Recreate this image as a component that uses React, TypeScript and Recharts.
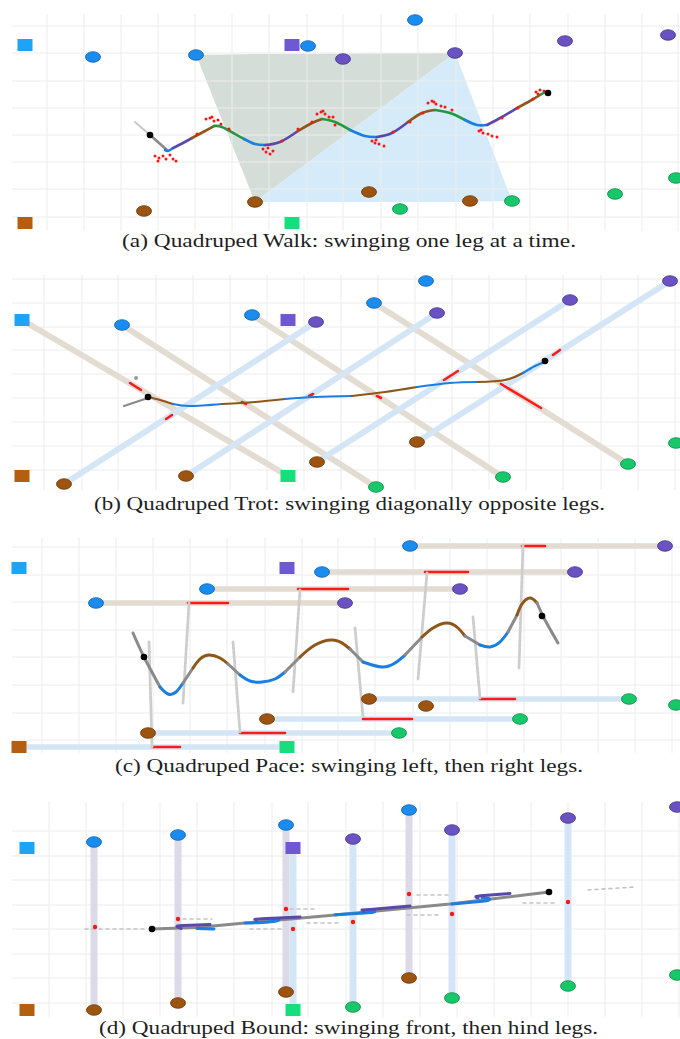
import React from 'react';
import { ComposedChart, XAxis, YAxis, Line, Scatter, Area, ReferenceLine } from 'recharts';

type XY = number[];

// ---------- colours ----------
const GRID = '#ececec';
const FOOT = { FL: '#1a8cf0', FR: '#6a52c2', HL: '#9c5410', HR: '#16c86a' };
const FOOT_EDGE = { FL: '#0f5fb0', FR: '#45358a', HL: '#6b3808', HR: '#0e8a48' };
const SQUARE = ['#1ea4f6', '#6e58d4', '#b35e10', '#17de7c'];
const PATH = { FL: '#1b7ee0', FR: '#5a48ac', HL: '#8e5618', HR: '#23993f', g: '#8a8a8a', lg: '#c8c8c8' };

// ---------- (a) walk ----------
const walkGridX = [47, 84, 121, 158, 195, 232, 269, 307, 343, 381, 418, 456, 493, 530, 568, 605, 642, 678];
const walkGridY = [26, 53, 81, 108, 135, 162, 189, 217];
const walkSquares: XY[] = [[25, 45], [292, 45], [25, 223], [292, 223]];
const walkFL: XY[] = [[93, 57], [196, 55], [308, 46], [415, 20]];
const walkFR: XY[] = [[343, 59], [455, 53], [565, 41], [668, 35]];
const walkHL: XY[] = [[144, 211], [255, 202], [369, 192], [470, 201]];
const walkHR: XY[] = [[400, 209], [512, 201], [615, 194], [676, 178]];
const walkSupportA = [{ x: 196, r: [55, 55] }, { x: 255, r: [54, 202] }, { x: 455, r: [53, 53] }];
const walkSupportB = [{ x: 255, r: [202, 202] }, { x: 455, r: [53, 202] }, { x: 512, r: [201, 201] }];
const walkPath: [string, XY[]][] = [
  ['lg', [[135, 122], [150, 135]]],
  ['g', [[150, 135], [167, 150]]],
  ['FL', [[165, 150], [168, 151], [173, 148]]],
  ['FR', [[173, 148], [183, 143], [192, 138]]],
  ['HL', [[192, 138], [205, 131], [214, 126]]],
  ['HR', [[214, 126], [222, 127], [235, 134], [244, 139]]],
  ['FL', [[244, 139], [255, 144], [265, 145]]],
  ['FR', [[265, 145], [280, 142], [298, 131]]],
  ['HL', [[298, 131], [312, 123], [322, 119]]],
  ['HR', [[322, 119], [335, 122], [350, 130]]],
  ['FL', [[350, 130], [365, 136], [377, 137]]],
  ['FR', [[377, 137], [392, 133], [408, 122]]],
  ['HL', [[408, 122], [422, 113], [435, 110]]],
  ['HR', [[435, 110], [450, 113], [465, 120]]],
  ['FL', [[465, 120], [477, 125], [487, 125]]],
  ['FR', [[487, 125], [502, 117], [517, 108]]],
  ['HL', [[517, 108], [530, 101], [540, 95]]],
  ['HR', [[540, 95], [545, 92]]],
];
const walkBlack: XY[] = [[150, 135], [548, 93]];
const walkRed: XY[] = [
  [155, 156], [159, 158], [163, 156], [170, 155], [173, 159], [176, 161], [166, 159], [158, 161],
  [206, 119], [210, 118], [214, 121], [218, 120], [221, 124], [229, 129], [212, 117],
  [263, 149], [266, 152], [270, 154], [273, 151], [268, 148], [282, 141],
  [317, 114], [321, 112], [325, 114], [329, 117], [333, 117], [335, 125], [323, 111],
  [372, 141], [376, 140], [379, 144], [384, 146], [375, 143],
  [428, 103], [432, 101], [436, 104], [441, 106], [445, 107], [452, 110], [434, 102],
  [479, 131], [483, 133], [488, 134], [492, 136], [497, 137], [481, 130],
  [536, 92], [540, 90], [544, 91], [538, 94], [533, 99],
  [298, 129], [312, 122], [393, 132], [410, 122], [423, 113], [502, 118], [518, 108], [197, 134],
];

// ---------- (b) trot ----------
const trotGridX = [44, 82, 118, 156, 193, 230, 267, 304, 341, 378, 415, 452, 489, 526, 563, 601, 638, 675];
const trotGridY = [279, 303, 327, 350, 374, 398, 422, 446, 470];
const trotSquares: XY[] = [[22, 320], [288, 320], [22, 476], [288, 476]];
const trotFL: XY[] = [[122, 325], [252, 315], [374, 303], [426, 281]];
const trotFR: XY[] = [[316, 322], [437, 313], [570, 300], [670, 281]];
const trotHL: XY[] = [[64, 484], [186, 476], [317, 462], [417, 442]];
const trotHR: XY[] = [[376, 487], [503, 477], [628, 464], [676, 443]];
const trotFrontSwing: XY[][] = [[[22, 320], [288, 476]], [[122, 325], [376, 487]], [[252, 315], [503, 477]], [[374, 303], [628, 464]]];
const trotHindSwing: XY[][] = [[[64, 484], [316, 322]], [[186, 476], [437, 313]], [[317, 462], [570, 300]], [[417, 442], [670, 281]]];
const trotContacts: XY[][] = [
  [[130, 383], [141, 390]], [[166, 419], [172, 415]], [[242, 402], [246, 404]], [[309, 396], [313, 394]],
  [[377, 396], [381, 398]], [[444, 380], [458, 371]], [[501, 384], [541, 408]], [[553, 355], [560, 350]],
];
const trotPath: [string, XY[]][] = [
  ['g', [[124, 406], [148, 398]]],
  ['HL', [[148, 397], [160, 400], [173, 404]]],
  ['FL', [[173, 404], [190, 406], [222, 404]]],
  ['HL', [[222, 404], [255, 402], [285, 399]]],
  ['FL', [[285, 399], [315, 397], [352, 396]]],
  ['HL', [[352, 396], [385, 392], [417, 387]]],
  ['FL', [[417, 387], [450, 383], [478, 382]]],
  ['HL', [[478, 382], [505, 380], [523, 373]]],
  ['FL', [[523, 373], [535, 366], [545, 362]]],
];
const trotBlack: XY[] = [[148, 397], [545, 361]];
const trotGrayDot: XY[] = [[136, 378]];

// ---------- (c) pace ----------
const paceGridX = [42, 79, 116, 153, 190, 227, 265, 302, 338, 375, 413, 450, 487, 524, 561, 598, 635, 672];
const paceGridY = [547, 575, 602, 630, 657, 685, 713, 740];
const paceSquares: XY[] = [[19, 568], [287, 568], [19, 747], [287, 747]];
const paceFL: XY[] = [[96, 603], [207, 589], [322, 572], [410, 546]];
const paceFR: XY[] = [[345, 603], [460, 589], [575, 572], [665, 546]];
const paceHL: XY[] = [[148, 733], [267, 719], [369, 699], [426, 706]];
const paceHR: XY[] = [[399, 733], [520, 719], [629, 699], [676, 705]];
const paceFrontSwing: XY[][] = [[[96, 603], [345, 603]], [[207, 589], [460, 589]], [[322, 572], [575, 572]], [[410, 546], [665, 546]]];
const paceHindSwing: XY[][] = [[[19, 747], [287, 747]], [[148, 733], [399, 733]], [[267, 719], [520, 719]], [[369, 699], [629, 699]]];
const paceContacts: XY[][] = [
  [[188, 603], [228, 603]], [[298, 589], [348, 589]], [[425, 572], [468, 572]], [[522, 546], [545, 546]],
  [[152, 747], [180, 747]], [[240, 733], [285, 733]], [[363, 719], [412, 719]], [[480, 699], [515, 699]],
];
const paceLegs: XY[][] = [
  [[149, 642], [152, 747]], [[189, 603], [183, 703]], [[233, 642], [240, 732]], [[300, 590], [293, 692]],
  [[355, 628], [363, 717]], [[427, 573], [418, 679]], [[473, 617], [480, 698]], [[523, 545], [519, 668]],
];
const pacePath: [string, XY[]][] = [
  ['g', [[133, 633], [144, 657], [160, 687]]],
  ['FL', [[160, 687], [168, 694], [176, 692], [183, 683]]],
  ['g', [[183, 683], [193, 668]]],
  ['HL', [[193, 668], [200, 659], [209, 655], [220, 658], [228, 664]]],
  ['g', [[228, 664], [240, 675]]],
  ['FL', [[240, 675], [250, 681], [262, 682], [275, 679], [285, 672]]],
  ['g', [[285, 672], [300, 657]]],
  ['HL', [[300, 657], [315, 645], [333, 640], [345, 645], [350, 649]]],
  ['g', [[350, 649], [363, 662]]],
  ['FL', [[363, 662], [382, 667], [395, 663], [405, 655]]],
  ['g', [[405, 655], [422, 637]]],
  ['HL', [[422, 637], [433, 628], [447, 623], [458, 628], [465, 636]]],
  ['g', [[465, 636], [480, 645]]],
  ['FL', [[480, 645], [490, 647], [500, 642], [508, 632]]],
  ['g', [[508, 632], [517, 615]]],
  ['HL', [[517, 615], [522, 604], [530, 598], [537, 603]]],
  ['g', [[537, 603], [545, 620], [558, 643]]],
];
const paceBlack: XY[] = [[144, 657], [542, 616]];

// ---------- (d) bound ----------
const boundGridX = [49, 86, 123, 160, 197, 234, 272, 308, 346, 383, 420, 457, 494, 531, 568, 605, 642, 679];
const boundGridY = [831, 856, 880, 905, 929, 954, 978, 1003];
const boundSquares: XY[] = [[27, 848], [293, 848], [27, 1010], [293, 1010]];
const boundFL: XY[] = [[94, 842], [178, 835], [286, 825], [409, 810]];
const boundFR: XY[] = [[353, 839], [452, 830], [568, 818], [677, 807]];
const boundHL: XY[] = [[94, 1010], [178, 1003], [286, 992], [409, 978]];
const boundHR: XY[] = [[353, 1007], [452, 998], [568, 986], [677, 975]];
const boundFrontSwing: XY[][] = [[[94, 842], [94, 1010]], [[178, 835], [178, 1003]], [[286, 825], [286, 992]], [[409, 810], [409, 978]]];
const boundHindSwing: XY[][] = [[[293, 848], [293, 1010]], [[353, 839], [353, 1007]], [[452, 830], [452, 998]], [[568, 818], [568, 986]]];
const boundRed: XY[] = [[95, 927], [178, 919], [286, 909], [293, 929], [353, 922], [409, 894], [452, 914], [568, 902]];
const boundDotted: XY[][] = [
  [[85, 929], [148, 929]], [[183, 919], [212, 919]], [[250, 929], [283, 929]], [[290, 909], [318, 909]],
  [[307, 923], [340, 923]], [[407, 915], [440, 915]], [[417, 895], [452, 895]], [[523, 903], [557, 903]],
  [[588, 890], [635, 887]],
];
const boundPath: [string, XY[]][] = [
  ['g', [[152, 929], [197, 927.5], [245, 923], [335, 915], [450, 904], [549, 892]]],
  ['FR', [[181, 928.5], [177, 926.5], [183, 925.5], [210, 924.5]]],
  ['FL', [[197, 928.5], [214, 929]]],
  ['FL', [[245, 923], [262, 922.5], [276, 921], [278, 919.5], [272, 919]]],
  ['FR', [[257, 920.5], [255, 919.5], [262, 918.8], [300, 917]]],
  ['FL', [[335, 914.8], [360, 913.2], [373, 912.3], [374, 911], [368, 910.3]]],
  ['FR', [[364, 911.5], [362, 910], [370, 909.5], [410, 906]]],
  ['FL', [[452, 904], [480, 901.5], [488, 900.5], [489, 898.5], [482, 897.5]]],
  ['FR', [[478, 898], [476, 896.5], [484, 895.5], [510, 893.5]]],
];
const boundBlack: XY[] = [[152, 929], [549, 892]];

// ---------- captions ----------
const captions = [
  '(a) Quadruped Walk: swinging one leg at a time.',
  '(b) Quadruped Trot: swinging diagonally opposite legs.',
  '(c) Quadruped Pace: swinging left, then right legs.',
  '(d) Quadruped Bound: swinging front, then hind legs.',
];
const captionBox = [[122, 247, 454], [94, 510, 511], [115, 772, 468], [99, 1034, 499]];

// ---------- helpers ----------
const toPts = (a: XY[]) => a.map(([x, y]) => ({ x, y }));

const ellipseShape = (fill: string, stroke: string) => (p: any) =>
  <ellipse cx={p.cx} cy={p.cy} rx={7.5} ry={5.3} fill={fill} stroke={stroke} strokeWidth={0.8} />;
const squareShape = (fill: string) => (p: any) =>
  <rect x={p.cx - 7.5} y={p.cy - 6} width={15} height={12} fill={fill} />;
const dotShape = (fill: string, r: number) => (p: any) => <circle cx={p.cx} cy={p.cy} r={r} fill={fill} />;

type PanelCfg = {
  y0: number; y1: number; gTop: number; gBot: number; gridX: number[]; gridY: number[];
  areas?: { data: any[]; fill: string }[];
  bars: { segs: XY[][]; color: string; width: number; dash?: string }[];
  path: [string, XY[]][]; pathWidth: number;
  squares: XY[]; feet: [keyof typeof FOOT, XY[]][];
  black: XY[]; red?: XY[]; redR?: number; grayDots?: XY[];
};

function Panel({ c }: { c: PanelCfg }) {
  const items: React.ReactNode[] = [];
  c.gridX.forEach((x, i) => items.push(
    <ReferenceLine key={'gx' + i} segment={[{ x, y: c.gTop }, { x, y: c.gBot }]} stroke={GRID} strokeWidth={1} />));
  c.gridY.forEach((y, i) => items.push(
    <ReferenceLine key={'gy' + i} segment={[{ x: 12, y }, { x: 680, y }]} stroke={GRID} strokeWidth={1} />));
  (c.areas || []).forEach((a, i) => items.push(
    <Area key={'ar' + i} data={a.data} dataKey="r" type="linear" stroke="none" fill={a.fill} fillOpacity={1} isAnimationActive={false} dot={false} activeDot={false} />));
  c.bars.forEach((b, bi) => b.segs.forEach((s, i) => items.push(
    <Line key={'b' + bi + '_' + i} data={toPts(s)} dataKey="y" type="linear" stroke={b.color} strokeWidth={b.width}
      strokeDasharray={b.dash} strokeLinecap="round" dot={false} activeDot={false} isAnimationActive={false} />)));
  c.path.forEach(([k, s], i) => items.push(
    <Line key={'p' + i} data={toPts(s)} dataKey="y" type={s.length > 2 && k !== 'g' ? 'natural' : (k === 'g' && s.length > 3 ? 'linear' : 'natural')} stroke={(PATH as any)[k]}
      strokeWidth={k === 'lg' ? 2 : c.pathWidth} strokeLinecap="round" dot={false} activeDot={false} isAnimationActive={false} />));
  if (c.red) items.push(<Scatter key="red" data={toPts(c.red)} shape={dotShape('#ff1414', c.redR || 1.6)} isAnimationActive={false} />);
  if (c.grayDots) items.push(<Scatter key="gd" data={toPts(c.grayDots)} shape={dotShape('#999', 2)} isAnimationActive={false} />);
  items.push(<Scatter key="blk" data={toPts(c.black)} shape={dotShape('#000', 3.3)} isAnimationActive={false} />);
  c.feet.forEach(([k, f]) => items.push(
    <Scatter key={'f' + k} data={toPts(f)} shape={ellipseShape(FOOT[k], FOOT_EDGE[k])} isAnimationActive={false} />));
  c.squares.forEach((s, i) => items.push(
    <Scatter key={'sq' + i} data={toPts([s])} shape={squareShape(SQUARE[i])} isAnimationActive={false} />));
  return (
    <div style={{ position: 'absolute', left: 0, top: c.y0 }}>
      <ComposedChart width={680} height={c.y1 - c.y0} margin={{ top: 0, right: 0, bottom: 0, left: 0 }}>
        <XAxis type="number" dataKey="x" domain={[0, 680]} hide allowDataOverflow />
        <YAxis type="number" dataKey="y" domain={[c.y0, c.y1]} reversed hide allowDataOverflow />
        {items}
      </ComposedChart>
    </div>
  );
}

const swingBeige = '#e3dcd2';
const swingBlue = '#d4e6f6';
const RED = '#ff1a1a';

const panels: PanelCfg[] = [
  {
    y0: 0, y1: 234, gTop: 14, gBot: 231, gridX: walkGridX, gridY: walkGridY,
    areas: [{ data: walkSupportA, fill: '#d5ddd8' }, { data: walkSupportB, fill: '#d6ebfa' }],
    bars: [], path: walkPath, pathWidth: 2.6, squares: walkSquares,
    feet: [['FL', walkFL], ['FR', walkFR], ['HL', walkHL], ['HR', walkHR]],
    black: walkBlack, red: walkRed, redR: 1.5,
  },
  {
    y0: 262, y1: 495, gTop: 275, gBot: 490, gridX: trotGridX, gridY: trotGridY,
    bars: [
      { segs: trotFrontSwing, color: swingBeige, width: 6 },
      { segs: trotHindSwing, color: swingBlue, width: 6 },
      { segs: trotContacts, color: RED, width: 2.6 },
    ],
    path: trotPath, pathWidth: 2.2, squares: trotSquares,
    feet: [['FL', trotFL], ['FR', trotFR], ['HL', trotHL], ['HR', trotHR]],
    black: trotBlack, grayDots: trotGrayDot,
  },
  {
    y0: 528, y1: 758, gTop: 538, gBot: 753, gridX: paceGridX, gridY: paceGridY,
    bars: [
      { segs: paceFrontSwing, color: swingBeige, width: 5.5 },
      { segs: paceHindSwing, color: swingBlue, width: 5.5 },
      { segs: paceContacts, color: RED, width: 2.6 },
      { segs: paceLegs, color: '#cdcdcd', width: 2.8, dash: '3 1.5' },
    ],
    path: pacePath, pathWidth: 3, squares: paceSquares,
    feet: [['FL', paceFL], ['FR', paceFR], ['HL', paceHL], ['HR', paceHR]],
    black: paceBlack,
  },
  {
    y0: 795, y1: 1019, gTop: 802, gBot: 1017, gridX: boundGridX, gridY: boundGridY,
    bars: [
      { segs: boundFrontSwing, color: '#dcdae6', width: 7 },
      { segs: boundHindSwing, color: swingBlue, width: 7 },
      { segs: boundDotted, color: '#c4c4c4', width: 1.6, dash: '3 4' },
    ],
    path: boundPath, pathWidth: 3, squares: boundSquares,
    feet: [['FL', boundFL], ['FR', boundFR], ['HL', boundHL], ['HR', boundHR]],
    black: boundBlack, red: boundRed, redR: 2.2,
  },
];

export default function App() {
  return (
    <div style={{ position: 'absolute', left: 0, top: 0, width: 680, height: 1039, background: '#fff', overflow: 'hidden' }}>
      {panels.map((p, i) => <Panel key={i} c={p} />)}
      <svg width={680} height={1039} style={{ position: 'absolute', left: 0, top: 0, pointerEvents: 'none' }}>
        {captions.map((t, i) => (
          <text key={i} x={captionBox[i][0]} y={captionBox[i][1]} textLength={captionBox[i][2]} lengthAdjust="spacingAndGlyphs"
            fontFamily="'Liberation Serif', 'DejaVu Serif', serif" fontSize={18} fill="#1e1e1e">{t}</text>
        ))}
      </svg>
    </div>
  );
}
